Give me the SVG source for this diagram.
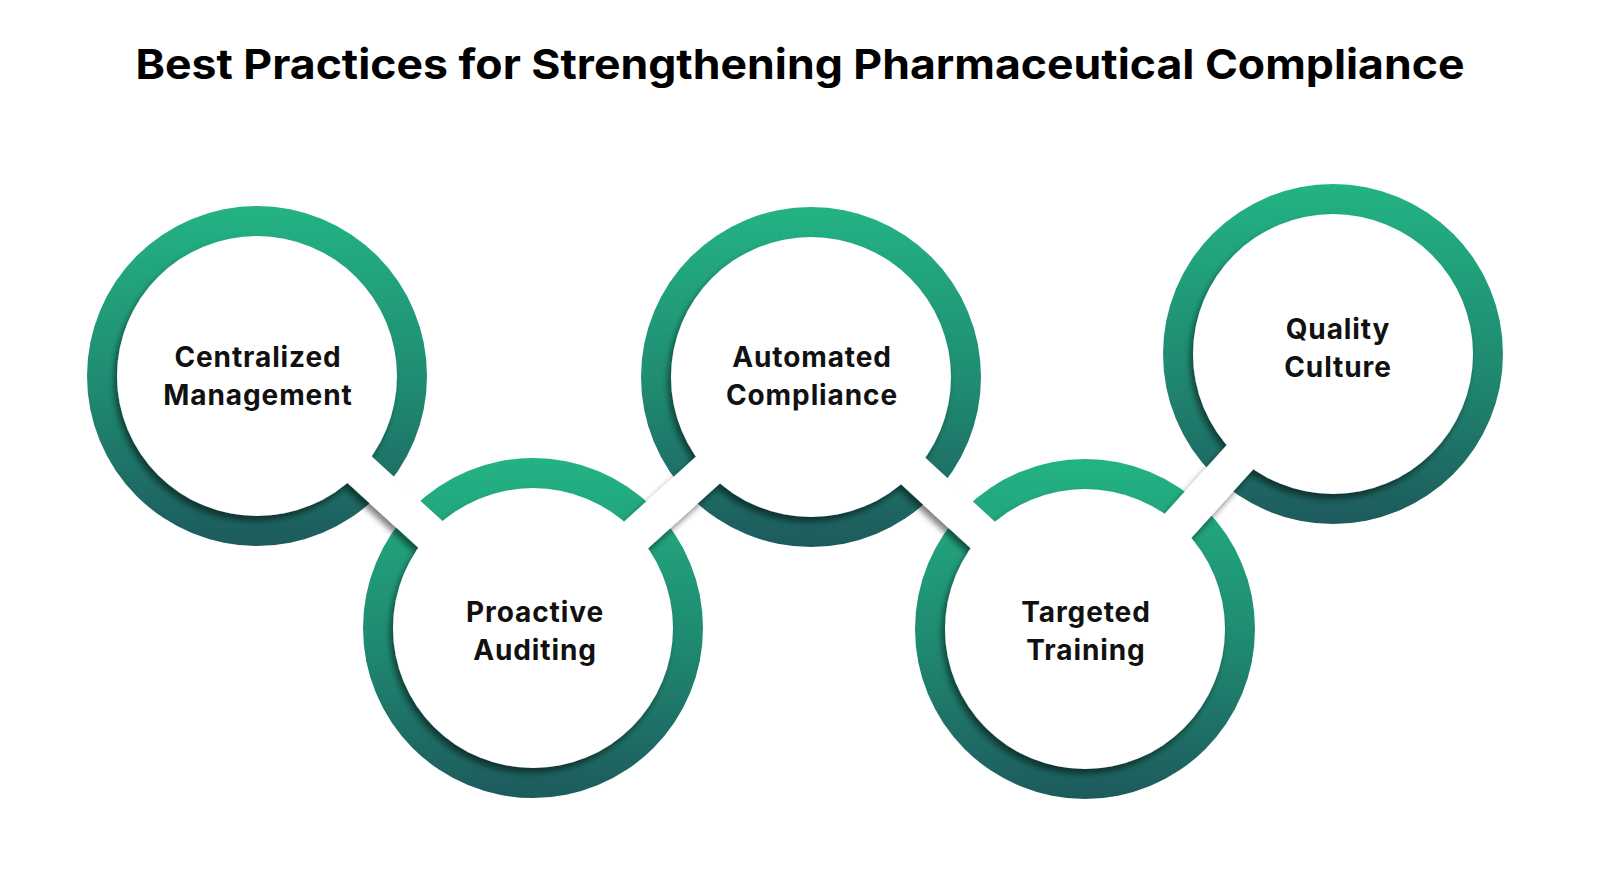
<svg xmlns="http://www.w3.org/2000/svg" width="1600" height="880" viewBox="0 0 1600 880">
  <style>
    .ring { fill: url(#ringGrad); }
    .title { font-family: Inter, "DejaVu Sans", sans-serif; font-weight: 700; font-size: 41px; fill: #000; }
    .label { font-family: Inter, "DejaVu Sans", sans-serif; font-weight: 700; font-size: 28px; letter-spacing: 0.9px; fill: #111; text-anchor: middle; }
    .neck { stroke: #fff; stroke-width: 36; stroke-linecap: butt; fill: none; }
  </style>
  <defs>
    <linearGradient id="ringGrad" x1="0" y1="0" x2="0" y2="1">
      <stop offset="0" stop-color="#23B384"/>
      <stop offset="0.55" stop-color="#1F8971"/>
      <stop offset="1" stop-color="#1D5A5C"/>
    </linearGradient>
    <filter id="shadow" x="-20%" y="-20%" width="140%" height="140%">
      <feGaussianBlur in="SourceAlpha" stdDeviation="3"/>
      <feOffset dx="-3" dy="5" result="b"/>
      <feComponentTransfer in="b" result="s">
        <feFuncA type="linear" slope="0.5"/>
      </feComponentTransfer>
      <feMerge>
        <feMergeNode in="s"/>
        <feMergeNode in="SourceGraphic"/>
      </feMerge>
    </filter>
  </defs>
  <rect width="1600" height="880" fill="#fff"/>
  <text class="title" x="800" y="79" text-anchor="middle" textLength="1329" lengthAdjust="spacingAndGlyphs">Best Practices for Strengthening Pharmaceutical Compliance</text>

  <g id="rings">
    <circle class="ring" cx="257" cy="376" r="170"/>
    <circle class="ring" cx="533" cy="628" r="170"/>
    <circle class="ring" cx="811" cy="377" r="170"/>
    <circle class="ring" cx="1085" cy="629" r="170"/>
    <circle class="ring" cx="1333" cy="354" r="170"/>
  </g>

  <g id="connectors" filter="url(#shadow)" fill="#fff">
    <line class="neck" x1="257" y1="376" x2="533" y2="628"/>
    <line class="neck" x1="533" y1="628" x2="811" y2="377"/>
    <line class="neck" x1="811" y1="377" x2="1085" y2="629"/>
    <line class="neck" x1="1085" y1="629" x2="1333" y2="354"/>
    <circle cx="257" cy="376" r="140"/>
    <circle cx="533" cy="628" r="140"/>
    <circle cx="811" cy="377" r="140"/>
    <circle cx="1085" cy="629" r="140"/>
    <circle cx="1333" cy="354" r="140"/>
  </g>

  <g id="node-centralized">
    <text class="label" x="258" y="367">Centralized</text>
    <text class="label" x="258" y="405">Management</text>
  </g>
  <g id="node-proactive">
    <text class="label" x="535" y="622">Proactive</text>
    <text class="label" x="535" y="660">Auditing</text>
  </g>
  <g id="node-automated">
    <text class="label" x="812" y="367">Automated</text>
    <text class="label" x="812" y="405">Compliance</text>
  </g>
  <g id="node-targeted">
    <text class="label" x="1086" y="622">Targeted</text>
    <text class="label" x="1086" y="660">Training</text>
  </g>
  <g id="node-quality">
    <text class="label" x="1338" y="339">Quality</text>
    <text class="label" x="1338" y="377">Culture</text>
  </g>
</svg>
